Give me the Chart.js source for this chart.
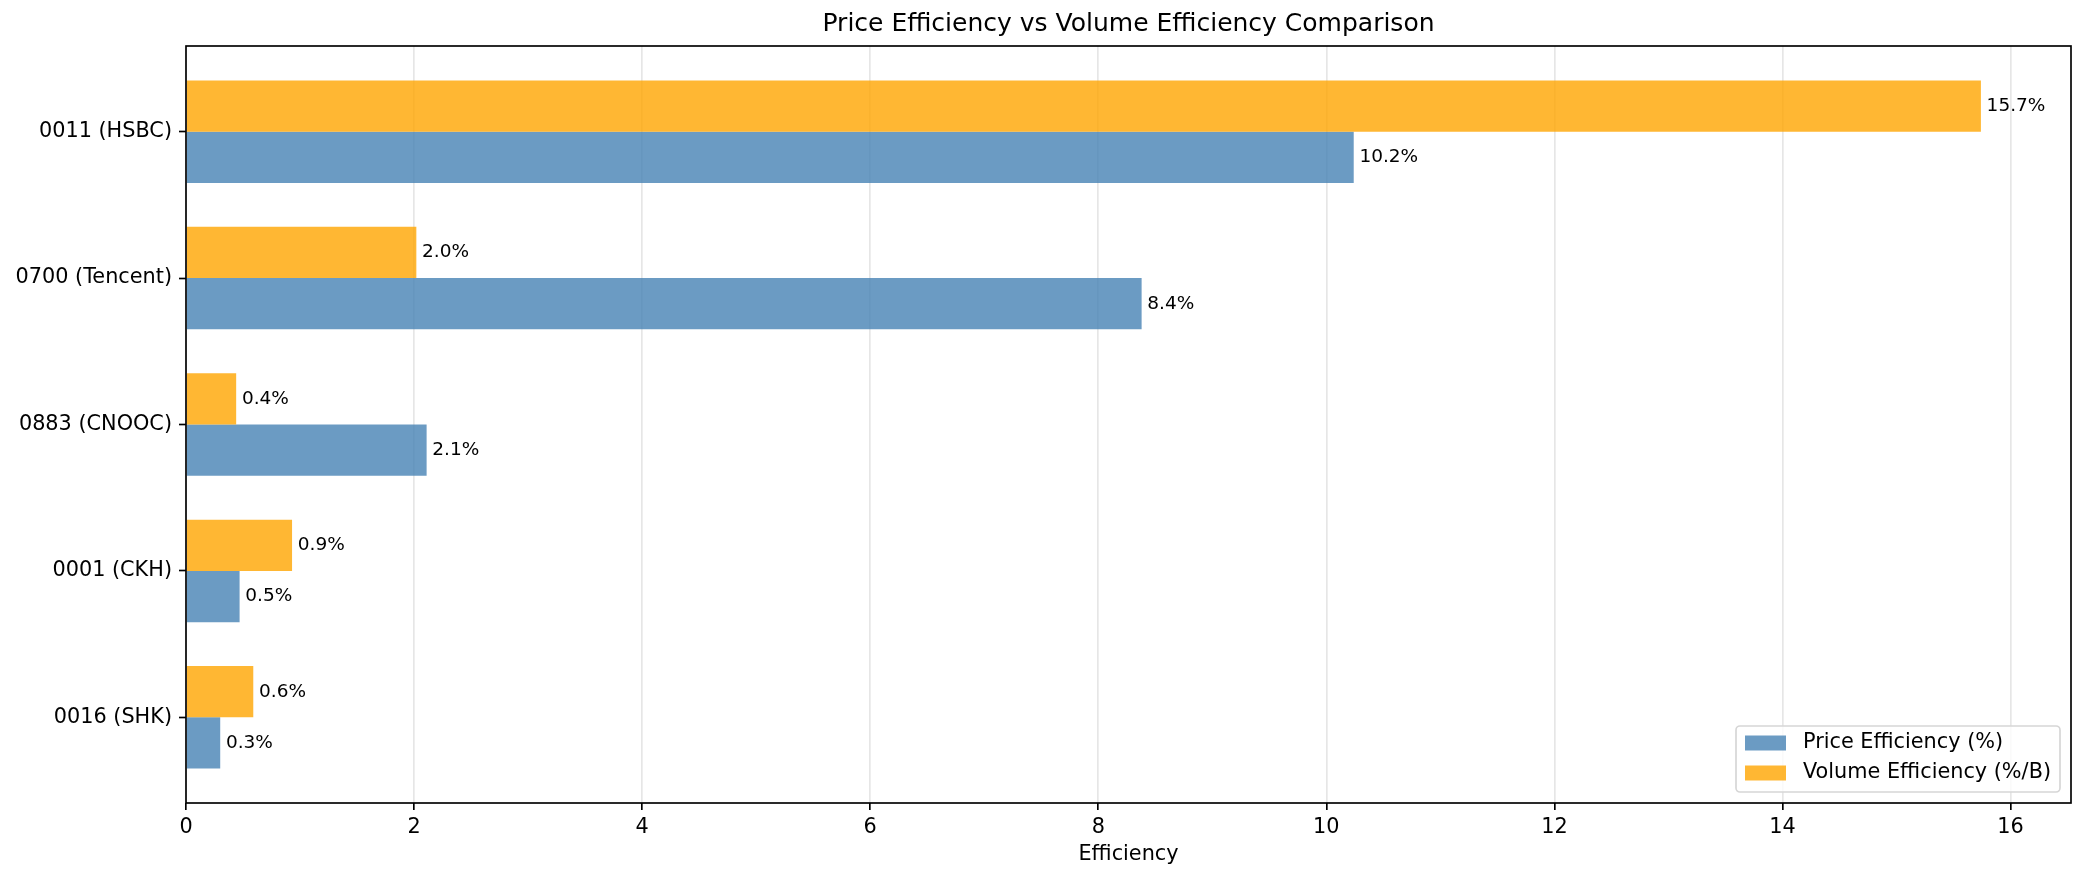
<!DOCTYPE html>
<html>
<head>
<meta charset="utf-8">
<title>Price Efficiency vs Volume Efficiency Comparison</title>
<script src="https://cdn.jsdelivr.net/npm/chart.js@4.4.1/dist/chart.umd.min.js"></script>
<style>
    html, body { margin: 0; padding: 0; background: #ffffff; }
    #chart { display: block; }
</style>
</head>
<body>
<canvas id="chart" width="2085" height="881"></canvas>
<script>
// Chart data
const companies = ['0011 (HSBC)', '0700 (Tencent)', '0883 (CNOOC)', '0001 (CKH)', '0016 (SHK)'];
const priceEfficiency = [10.24, 8.38, 2.11, 0.47, 0.30];
const volumeEfficiency = [15.74, 2.02, 0.44, 0.93, 0.59];
const xTicks = [0, 2, 4, 6, 8, 10, 12, 14, 16];

const priceColor = 'rgba(70, 130, 180, 0.8)';
const volumeColor = 'rgba(255, 165, 0, 0.8)';
const fontFamily = "'DejaVu Sans', sans-serif";

Chart.defaults.font.family = fontFamily;
Chart.defaults.color = '#000000';

// Value labels at the end of each bar
const barLabels = {
    id: 'barLabels',
    afterDatasetsDraw(chart) {
        const ctx = chart.ctx;
        const xScale = chart.scales.x;
        ctx.save();
        ctx.font = '18.5px ' + fontFamily;
        ctx.fillStyle = '#000000';
        ctx.textAlign = 'left';
        ctx.textBaseline = 'middle';
        chart.data.datasets.forEach((ds, di) => {
            const meta = chart.getDatasetMeta(di);
            meta.data.forEach((bar, i) => {
                const v = ds.data[i].x;
                ctx.fillText(v.toFixed(1) + '%', xScale.getPixelForValue(v + 0.05), bar.y);
            });
        });
        ctx.restore();
    }
};

// Axes frame (all four spines) and legend box in lower right
const frameAndLegend = {
    id: 'frameAndLegend',
    afterDraw(chart) {
        const ctx = chart.ctx;
        const area = chart.chartArea;
        ctx.save();
        ctx.strokeStyle = '#000000';
        ctx.lineWidth = 1.67;
        ctx.strokeRect(area.left, area.top, area.right - area.left, area.bottom - area.top);

        // legend
        const boxX = area.right - 335, boxY = area.bottom - 77;
        const boxW = 324, boxH = 66, r = 4;
        ctx.beginPath();
        ctx.moveTo(boxX + r, boxY);
        ctx.arcTo(boxX + boxW, boxY, boxX + boxW, boxY + boxH, r);
        ctx.arcTo(boxX + boxW, boxY + boxH, boxX, boxY + boxH, r);
        ctx.arcTo(boxX, boxY + boxH, boxX, boxY, r);
        ctx.arcTo(boxX, boxY, boxX + boxW, boxY, r);
        ctx.closePath();
        ctx.fillStyle = 'rgba(255, 255, 255, 0.8)';
        ctx.fill();
        ctx.strokeStyle = '#d6d6d6';
        ctx.lineWidth = 1.67;
        ctx.stroke();

        const items = chart.data.datasets.slice().reverse();
        ctx.font = '20.8px ' + fontFamily;
        ctx.textAlign = 'left';
        ctx.textBaseline = 'middle';
        items.forEach((ds, i) => {
            const cy = boxY + 17 + i * 30;
            ctx.fillStyle = ds.backgroundColor;
            ctx.fillRect(boxX + 9, cy - 7.5, 41, 15);
            ctx.fillStyle = '#000000';
            ctx.fillText(ds.label, boxX + 67, cy);
        });
        ctx.restore();
    }
};

const ctx = document.getElementById('chart').getContext('2d');
const chart = new Chart(ctx, {
    type: 'bar',
    data: {
        datasets: [
            {
                label: 'Volume Efficiency (%/B)',
                data: volumeEfficiency.map((v, i) => ({ x: v, y: i })),
                backgroundColor: volumeColor,
                borderWidth: 0
            },
            {
                label: 'Price Efficiency (%)',
                data: priceEfficiency.map((v, i) => ({ x: v, y: i })),
                backgroundColor: priceColor,
                borderWidth: 0
            }
        ]
    },
    options: {
        indexAxis: 'y',
        responsive: false,
        animation: false,
        devicePixelRatio: 1,
        categoryPercentage: 0.7,
        barPercentage: 1.0,
        layout: { padding: { left: 0, right: 14, top: 0, bottom: 0 } },
        plugins: {
            legend: { display: false },
            tooltip: { enabled: false },
            title: {
                display: true,
                text: 'Price Efficiency vs Volume Efficiency Comparison',
                fullSize: false,
                font: { size: 25, weight: 'normal', family: fontFamily },
                color: '#000000',
                padding: { top: 9, bottom: 7 }
            }
        },
        scales: {
            x: {
                type: 'linear',
                position: 'bottom',
                min: 0,
                max: 16.53,
                afterBuildTicks: axis => { axis.ticks = xTicks.map(v => ({ value: v })); },
                afterFit: axis => { axis.height = 78; },
                ticks: {
                    font: { size: 20.8 },
                    color: '#000000',
                    padding: 5,
                    maxRotation: 0
                },
                grid: {
                    color: '#e6e6e6',
                    lineWidth: 1.67,
                    drawTicks: true,
                    tickColor: '#000000',
                    tickWidth: 1.67,
                    tickLength: 7
                },
                border: { display: false },
                title: {
                    display: true,
                    text: 'Efficiency',
                    font: { size: 20.8 },
                    color: '#000000',
                    padding: { top: 0, bottom: 14 }
                }
            },
            y: {
                type: 'linear',
                position: 'left',
                reverse: true,
                offset: false,
                min: -0.585,
                max: 4.585,
                afterBuildTicks: axis => { axis.ticks = companies.map((c, i) => ({ value: i })); },
                afterFit: axis => { axis.width = 186; },
                ticks: {
                    autoSkip: false,
                    font: { size: 20.8 },
                    color: '#000000',
                    padding: 7,
                    callback: value => companies[value]
                },
                grid: {
                    offset: false,
                    drawOnChartArea: false,
                    drawTicks: true,
                    tickColor: '#000000',
                    tickWidth: 1.67,
                    tickLength: 7
                },
                border: { display: false }
            }
        }
    },
    plugins: [barLabels, frameAndLegend]
});
</script>
</body>
</html>
